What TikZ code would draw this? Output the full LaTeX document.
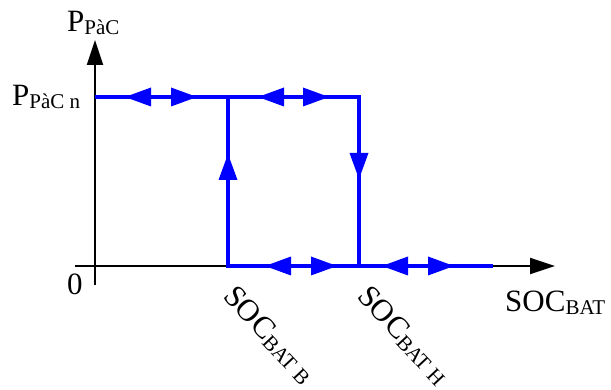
\documentclass[tikz,border=0pt]{standalone}
\usepackage{fontspec}
\setmainfont{Liberation Serif}
\usetikzlibrary{arrows.meta}
\definecolor{loopblue}{RGB}{0,0,255}
\newcommand{\lowsub}[1]{{\fontsize{21}{21}\selectfont\raisebox{-3pt}{#1}}}
\newcommand{\rotsub}[1]{{\fontsize{21}{21}\selectfont\raisebox{-3pt}{#1}}}
\newcommand{\mainsz}{\fontsize{31}{31}\selectfont}
\newcommand{\rotsz}{\fontsize{31}{31}\selectfont}
\begin{document}
\begin{tikzpicture}[x=1pt,y=-1pt,
  axis/.style={line width=2pt, black},
  axtip/.style={-{Triangle[length=25pt,width=16pt]}},
  loop/.style={line width=3.2pt, loopblue},
  lbl/.style={inner sep=0pt, font=\mainsz},
  rotlbl/.style={inner sep=0pt, font=\rotsz, rotate=-47, anchor=base west},
  tri/.pic={\fill[loopblue] (0,0) -- (-26,9.5) -- (-26,-9.5) -- cycle;}
]
\useasboundingbox (0,0) rectangle (611,390);
% axes
\coordinate (ys) at (95,285);
\coordinate (ye) at (95,40);
\coordinate (xs) at (75,266);
\coordinate (xe) at (555,266);
\draw[axis,axtip] (ys) -- (ye);
\draw[axis,axtip] (xs) -- (xe);
% loop
\coordinate (A) at (95,97);
\coordinate (B) at (228,97);
\coordinate (C) at (359,97);
\coordinate (D) at (228,266);
\coordinate (E) at (359,266);
\coordinate (F) at (493,266);
\draw[loop] (A) -- (C) -- (E);
\draw[loop] (B) -- (D) -- (F);
% direction triangles
\pic[rotate=180] at (125,97) {tri};
\pic at (197,97) {tri};
\pic[rotate=180] at (258,97) {tri};
\pic at (329,97) {tri};
\pic[rotate=180] at (265,266) {tri};
\pic at (337,266) {tri};
\pic[rotate=180] at (382,266) {tri};
\pic at (454,266) {tri};
\pic[rotate=90] at (228,154) {tri};
\pic[rotate=-90] at (359,179) {tri};
% labels
\node[lbl, anchor=base west] (ylab) at (67,32) {P\lowsub{PàC}};
\node[lbl, anchor=base west] (pn) at (12,106) {P\lowsub{PàC n}};
\node[lbl, anchor=base west] (zero) at (67,295) {0};
\node[lbl, anchor=base west] (xlab) at (505,312) {SOC\lowsub{BAT}};
\node[rotlbl] (socb) at (222,297) {SOC\rotsub{BAT B}};
\node[rotlbl] (soch) at (356,297) {SOC\rotsub{BAT H}};
\end{tikzpicture}
\end{document}
